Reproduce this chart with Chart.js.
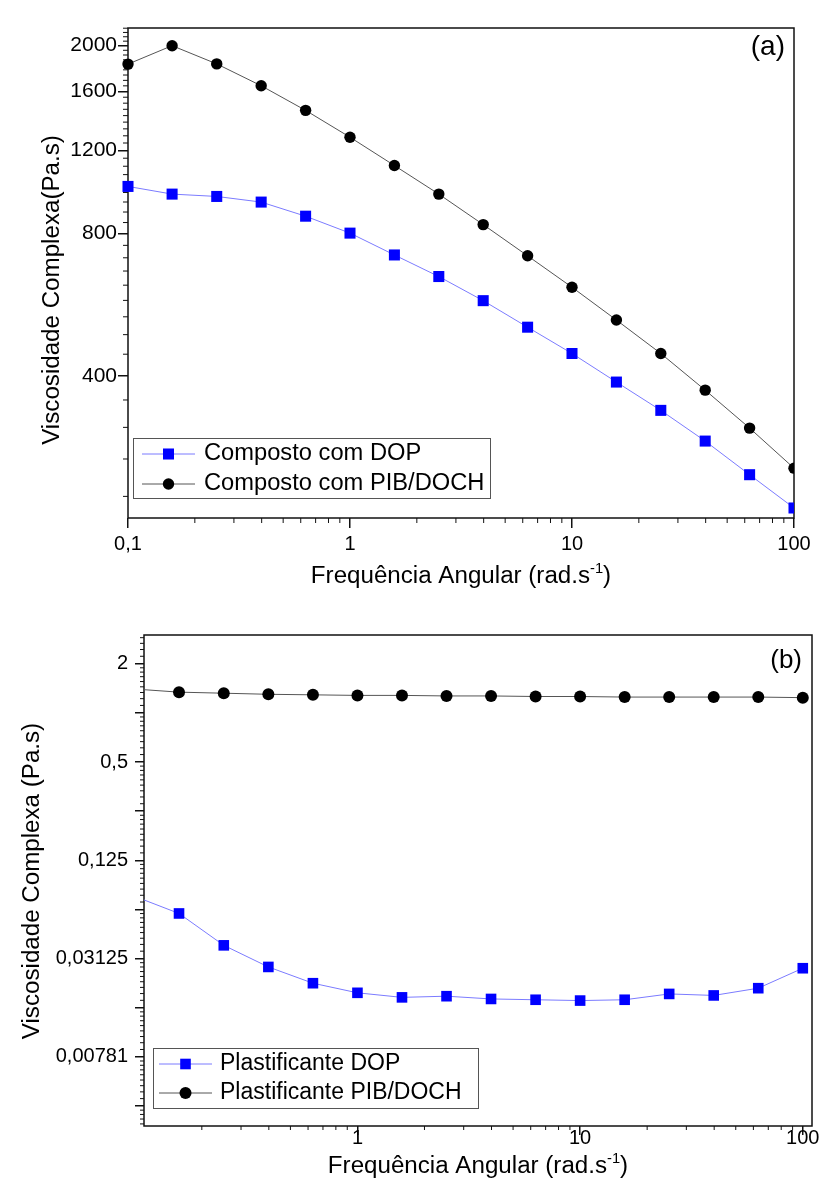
<!DOCTYPE html>
<html>
<head>
<meta charset="utf-8">
<script src="https://cdn.jsdelivr.net/npm/chart.js@4.4.0/dist/chart.umd.min.js"></script>
<style>
  html, body { margin: 0; padding: 0; background: #fff; overflow: hidden; }
  #wrapA { position: absolute; left: 0; top: 0; width: 821px; height: 600px; }
  #wrapB { position: absolute; left: 0; top: 600px; width: 821px; height: 591px; }
</style>
</head>
<body>
<div id="wrapA"><canvas id="chartA"></canvas></div>
<div id="wrapB"><canvas id="chartB"></canvas></div>
<script>
'use strict';
// angular frequency sweep (rad/s), same points for every run
let freq = [0.1, 0.158, 0.251, 0.398, 0.631, 1, 1.585, 2.512, 3.981, 6.31, 10, 15.85, 25.12, 39.81, 63.1, 100];

// (a) compounds - complex viscosity (Pa.s)
let compostoDOP = [1007, 970, 959, 933, 871, 802, 721, 649, 577, 507, 446, 388, 338, 291, 247, 210];
let compostoPIB = [1828, 2000, 1830, 1645, 1459, 1280, 1115, 970, 836, 718, 616, 525, 446, 373, 310, 255];

// (b) plasticizers alone - complex viscosity (Pa.s)
let plastDOP = [0.0752, 0.0591, 0.0377, 0.0278, 0.0221, 0.0193, 0.0181, 0.0184, 0.0177, 0.0175, 0.0173, 0.0175, 0.0190, 0.0186, 0.0206, 0.0273];
let plastPIB = [1.40, 1.34, 1.32, 1.30, 1.29, 1.28, 1.28, 1.27, 1.27, 1.26, 1.26, 1.25, 1.25, 1.25, 1.25, 1.24];

// tick values and labels
let xTicksA = [0.1, 1, 10, 100];
let xLabelsA = ['0,1', '1', '10', '100'];
let yTicksA = [400, 800, 1200, 1600, 2000];
let yLabelsA = ['400', '800', '1200', '1600', '2000'];
let xTicksB = [1, 10, 100];
let xLabelsB = ['1', '10', '100'];
let yTicksB = [2, 1, 0.5, 0.25, 0.125, 0.0625, 0.03125, 0.015625, 0.0078125, 0.00390625];
let yLabelsB = ['2', '', '0,5', '', '0,125', '', '0,03125', '', '0,00781', ''];

const FONT = '"Liberation Sans", Arial, sans-serif';
Chart.defaults.font.family = FONT;
Chart.defaults.color = '#000';

function pairs(xs, ys) {
  return xs.map((x, i) => ({ x: x, y: ys[i] }));
}

// minor ticks 2..9 inside each decade
function decadeMinors(e0, e1) {
  let out = [];
  for (let e = e0; e <= e1; e++) {
    for (let d = 2; d <= 9; d++) out.push(d * Math.pow(10, e));
  }
  return out;
}

// y minors for (a): 8 between each 400 step
function minorsA() {
  let out = [];
  for (let k = -4; k <= 40; k++) {
    if (k % 9 === 0) continue;
    out.push(400 + k * 400 / 9);
  }
  return out;
}

// y minors for (b): 8 linear steps between powers of two
function minorsB() {
  let out = [];
  for (let p = 0.00390625 / 2; p <= 2; p *= 2) {
    for (let k = 1; k <= 8; k++) out.push(p + k * p / 9);
  }
  return out;
}

function stretchText(ctx, text, x, y, size, sx, align, rot) {
  ctx.save();
  ctx.translate(x, y);
  if (rot) ctx.rotate(rot);
  ctx.scale(sx, 1);
  ctx.font = size + 'px ' + FONT;
  ctx.textAlign = align;
  ctx.textBaseline = 'middle';
  ctx.fillText(text, 0, 0);
  ctx.restore();
}

function freqTitle(ctx, cx, baseline, size, sx) {
  const main = 'Frequência Angular (rad.s';
  const sup = '-1';
  const tail = ')';
  const mainFont = size + 'px ' + FONT;
  const supFont = Math.round(size * 0.6) + 'px ' + FONT;
  ctx.save();
  ctx.font = mainFont;
  const w1 = ctx.measureText(main).width;
  const w3 = ctx.measureText(tail).width;
  ctx.font = supFont;
  const w2 = ctx.measureText(sup).width;
  ctx.translate(cx, baseline);
  ctx.scale(sx, 1);
  ctx.textAlign = 'left';
  ctx.textBaseline = 'alphabetic';
  ctx.fillStyle = '#000';
  let x = -(w1 + w2 + w3) / 2;
  ctx.font = mainFont;
  ctx.fillText(main, x, 0);
  x += w1;
  ctx.font = supFont;
  ctx.fillText(sup, x, -size * 0.42);
  x += w2;
  ctx.font = mainFont;
  ctx.fillText(tail, x, 0);
  ctx.restore();
}

// frame, minor ticks, legend box, titles and panel tag
function makeDecor(cfg) {
  return {
    id: 'decor',
    beforeDatasetsDraw(chart) {
      const { ctx, chartArea: a } = chart;
      const xs = chart.scales.x, ys = chart.scales.y;
      ctx.save();
      ctx.strokeStyle = '#111';
      ctx.lineWidth = 1;
      ctx.beginPath();
      cfg.minorX.forEach(v => {
        const px = xs.getPixelForValue(v);
        if (px < a.left - 0.5 || px > a.right + 0.5) return;
        ctx.moveTo(px, a.bottom);
        ctx.lineTo(px, a.bottom + cfg.minorLen);
      });
      cfg.minorY.forEach(v => {
        const py = ys.getPixelForValue(v);
        if (py < a.top - 0.5 || py > a.bottom + 0.5) return;
        ctx.moveTo(a.left, py);
        ctx.lineTo(a.left - cfg.minorLen, py);
      });
      ctx.stroke();
      ctx.lineWidth = 1.5;
      ctx.strokeRect(a.left, a.top, a.right - a.left, a.bottom - a.top);
      ctx.restore();
    },
    afterDraw(chart) {
      const { ctx, chartArea: a } = chart;
      const L = cfg.legend;
      ctx.save();
      // legend box
      const bx = a.left + L.dx, by = a.bottom - L.dy - L.h;
      ctx.strokeStyle = '#555';
      ctx.lineWidth = 1;
      ctx.strokeRect(bx + 0.5, by + 0.5, L.w, L.h);
      chart.data.datasets.forEach((ds, i) => {
        const ry = by + L.rows[i];
        ctx.strokeStyle = ds.borderColor;
        ctx.lineWidth = ds.borderWidth;
        ctx.beginPath();
        ctx.moveTo(bx + L.line0, ry);
        ctx.lineTo(bx + L.line1, ry);
        ctx.stroke();
        ctx.fillStyle = ds.pointBackgroundColor;
        Chart.helpers.drawPoint(ctx, { pointStyle: ds.pointStyle, radius: ds.pointRadius, rotation: 0, borderWidth: 0 },
          bx + (L.line0 + L.line1) / 2, ry);
        ctx.fillStyle = '#000';
        stretchText(ctx, ds.label, bx + L.text, ry, L.size, L.sx, 'left');
      });
      // panel tag
      ctx.fillStyle = '#000';
      stretchText(ctx, cfg.tag, a.right - cfg.tagDx, a.top + cfg.tagDy, cfg.tagSize, 1, 'right');
      // axis titles
      stretchText(ctx, cfg.yTitle, cfg.yTitleX, cfg.yTitleY, cfg.titleSize, cfg.titleSx, 'center', -Math.PI / 2);
      freqTitle(ctx, (a.left + a.right) / 2, cfg.xTitleBase, cfg.titleSize, cfg.titleSx);
      ctx.restore();
    }
  };
}

function logAxis(opts) {
  return {
    type: 'logarithmic',
    min: opts.min,
    max: opts.max,
    afterBuildTicks: s => { s.ticks = opts.ticks.map(v => ({ value: v })); },
    afterFit: s => {
      if (opts.width) s.width = opts.width;
      if (opts.height) s.height = opts.height;
      s.paddingLeft = 0; s.paddingRight = 0; s.paddingTop = 0; s.paddingBottom = 0;
    },
    ticks: {
      autoSkip: false,
      maxRotation: 0,
      padding: opts.pad,
      color: '#000',
      font: { size: opts.fontSize },
      callback: (v, i) => opts.labels[i]
    },
    grid: { drawOnChartArea: false, drawTicks: true, tickLength: opts.tickLen, color: '#111', lineWidth: 1.5 },
    border: { display: false }
  };
}

function seriesStyle(label, values, blue, radius, clip) {
  return {
    label: label,
    data: pairs(freq, values),
    borderColor: blue ? '#7b7bff' : '#555',
    borderWidth: 1,
    pointStyle: blue ? 'rect' : 'circle',
    pointRadius: radius,
    pointBackgroundColor: blue ? '#0000ff' : '#000',
    pointBorderColor: blue ? '#0000ff' : '#000',
    pointBorderWidth: 0,
    tension: 0,
    clip: clip
  };
}

// (a) Composto
new Chart(document.getElementById('chartA'), {
  type: 'line',
  data: {
    datasets: [
      seriesStyle('Composto com DOP', compostoDOP, true, 7.8, { left: 10, top: 10, right: 0, bottom: 10 }),
      seriesStyle('Composto com PIB/DOCH', compostoPIB, false, 5.7, { left: 10, top: 10, right: 0, bottom: 10 })
    ]
  },
  options: {
    responsive: true,
    maintainAspectRatio: false,
    animation: false,
    events: [],
    layout: { padding: { top: 28, right: 27, left: 0, bottom: 0 } },
    plugins: { legend: { display: false }, tooltip: { enabled: false } },
    scales: {
      x: logAxis({ min: 0.1, max: 100, ticks: xTicksA, labels: xLabelsA, height: 82, pad: 4, tickLen: 10, fontSize: 20 }),
      y: logAxis({ min: 200, max: 2180, ticks: yTicksA, labels: yLabelsA, width: 128, pad: 1, tickLen: 10, fontSize: 21 })
    }
  },
  plugins: [makeDecor({
    minorX: decadeMinors(-1, 1),
    minorY: minorsA(),
    minorLen: 5,
    legend: { dx: 5, dy: 20, w: 357, h: 60, rows: [16, 46], line0: 9, line1: 62, text: 71, size: 23, sx: 1.03 },
    tag: '(a)', tagDx: 9, tagDy: 19, tagSize: 28,
    yTitle: 'Viscosidade Complexa(Pa.s)', yTitleX: 53, yTitleY: 290,
    xTitleBase: 583,
    titleSize: 23, titleSx: 1.05
  })]
});

// (b) Plastificante
new Chart(document.getElementById('chartB'), {
  type: 'line',
  data: {
    datasets: [
      seriesStyle('Plastificante DOP', plastDOP, true, 7.5, 0),
      seriesStyle('Plastificante PIB/DOCH', plastPIB, false, 6, 0)
    ]
  },
  options: {
    responsive: true,
    maintainAspectRatio: false,
    animation: false,
    events: [],
    layout: { padding: { top: 35, right: 9, left: 0, bottom: 0 } },
    plugins: { legend: { display: false }, tooltip: { enabled: false } },
    scales: {
      x: logAxis({ min: 0.11, max: 110, ticks: xTicksB, labels: xLabelsB, height: 65, pad: -9, tickLen: 9, fontSize: 20 }),
      y: logAxis({ min: 0.00295, max: 3.0, ticks: yTicksB, labels: yLabelsB, width: 144, pad: 7, tickLen: 9, fontSize: 20 })
    }
  },
  plugins: [makeDecor({
    minorX: decadeMinors(-1, 1),
    minorY: minorsB(),
    minorLen: 4,
    legend: { dx: 9, dy: 18, w: 325, h: 60, rows: [16, 45], line0: 6, line1: 59, text: 67, size: 23, sx: 1 },
    tag: '(b)', tagDx: 10, tagDy: 26, tagSize: 26,
    yTitle: 'Viscosidade Complexa (Pa.s)', yTitleX: 33, yTitleY: 281,
    xTitleBase: 573,
    titleSize: 23, titleSx: 1.05
  })]
});
</script>
</body>
</html>
